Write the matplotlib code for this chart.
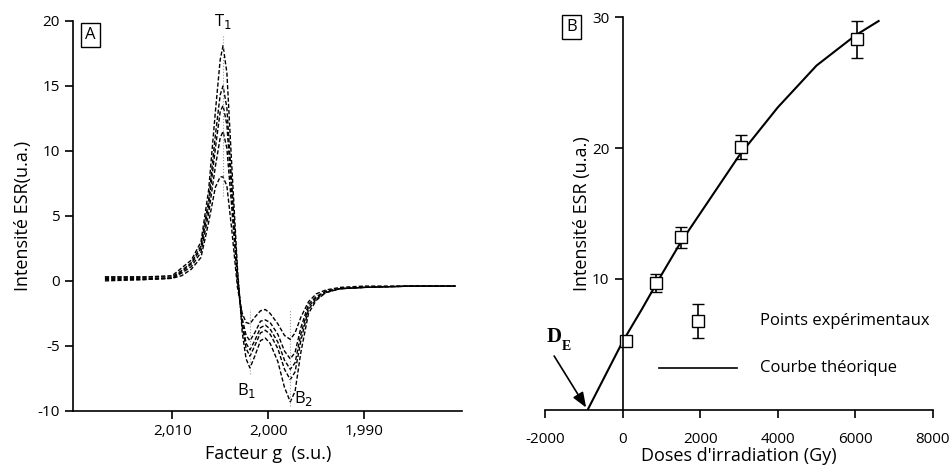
import matplotlib.pyplot as plt

plt.rcParams["font.family"] = ["Open Sans", "DejaVu Sans"]
plt.rcParams["axes.unicode_minus"] = False

# panel A: ESR spectra (g factor vs intensity), five doses
g = [2.0170, 2.0130, 2.0100, 2.0090, 2.0080, 2.0070, 2.0062, 2.0055, 2.0050, 2.0047, 2.0043,
     2.0038, 2.0032, 2.0027, 2.0023, 2.0019, 2.0014, 2.0008, 2.0003, 1.9998, 1.9990,
     1.9983, 1.9977, 1.9972, 1.9966, 1.9958, 1.9950, 1.9940, 1.9925, 1.9900, 1.9850, 1.9805]
spec1 = [0.3, 0.3, 0.4, 1.0, 1.6, 3.0, 7.0, 13.0, 17.0, 18.1, 16.0,
         9.0, 1.0, -4.0, -6.0, -6.7, -5.8, -4.6, -4.4, -4.8, -6.2,
         -8.2, -9.3, -8.5, -5.5, -2.5, -1.5, -0.9, -0.6, -0.5, -0.4, -0.4]
spec2 = [0.3, 0.3, 0.3, 0.8, 1.4, 2.7, 6.2, 11.2, 14.3, 15.0, 13.3,
         7.6, 0.6, -3.5, -5.2, -5.8, -5.0, -4.0, -3.8, -4.1, -5.2,
         -6.8, -7.6, -7.0, -4.6, -2.2, -1.4, -0.9, -0.6, -0.5, -0.4, -0.4]
spec3 = [0.2, 0.2, 0.2, 0.7, 1.3, 2.5, 5.8, 10.2, 13.0, 13.5, 12.0,
         6.8, 0.3, -3.2, -4.8, -5.3, -4.6, -3.6, -3.4, -3.7, -4.7,
         -6.1, -6.8, -6.3, -4.1, -2.0, -1.3, -0.8, -0.6, -0.5, -0.4, -0.4]
spec4 = [0.1, 0.1, 0.2, 0.6, 1.1, 2.2, 5.2, 8.8, 11.0, 11.5, 10.2,
         5.7, 0.0, -2.9, -4.2, -4.6, -4.0, -3.1, -3.0, -3.2, -4.1,
         -5.4, -6.0, -5.5, -3.6, -1.8, -1.2, -0.8, -0.6, -0.5, -0.4, -0.4]
spec5 = [0.0, 0.1, 0.2, 0.4, 0.9, 1.8, 4.5, 7.2, 8.0, 8.0, 7.3,
         4.0, -0.5, -2.5, -3.2, -3.3, -2.8, -2.3, -2.2, -2.5, -3.3,
         -4.2, -4.5, -4.0, -2.8, -1.6, -1.0, -0.7, -0.5, -0.4, -0.4, -0.4]
spectra = [spec1, spec2, spec3, spec4, spec5]
g_t1, g_b1, g_b2 = 2.0047, 2.0019, 1.9977

# panel B: dose response
dose = [80, 850, 1500, 3050, 6050]
intensity = [5.3, 9.7, 13.2, 20.1, 28.3]
err = [0.3, 0.7, 0.8, 0.9, 1.4]
fit_dose = [-900, 0, 500, 1000, 1500, 2000, 3000, 4000, 5000, 6000, 6600]
fit_int = [0.0, 5.2, 7.7, 10.3, 12.8, 15.0, 19.4, 23.1, 26.3, 28.6, 29.7]

fig = plt.figure(figsize=(9.51, 4.75), dpi=100)
axA = fig.add_axes([0.077, 0.135, 0.409, 0.821])
axB = fig.add_axes([0.573, 0.137, 0.408, 0.827])

for s in spectra:
    axA.plot(g, s, color="black", linestyle=(0, (3, 1.5)), linewidth=1.0)
axA.vlines([g_t1], 6.5, 19.0, color="#999999", linestyle=":", linewidth=0.8)
axA.vlines([g_b1, g_b2], [-7.2, -9.6], -2.2, color="#999999", linestyle=":", linewidth=0.8)
axA.text(g_t1, 19.2, "T$_1$", ha="center", va="bottom", fontsize=12)
axA.text(g_b1 + 0.0003, -7.7, "B$_1$", ha="center", va="top", fontsize=12)
axA.text(g_b2 - 0.0004, -8.3, "B$_2$", ha="left", va="top", fontsize=12)
axA.set_xlim(2.0203, 1.9798)
axA.set_ylim(-10, 20)
axA.set_xticks([2.010, 2.000, 1.990])
axA.set_xticklabels(["2,010", "2,000", "1,990"])
axA.set_yticks([-10, -5, 0, 5, 10, 15, 20])
axA.spines["top"].set_visible(False)
axA.spines["right"].set_visible(False)
axA.tick_params(labelsize=11, length=6, width=1.2)
axA.set_xlabel("Facteur g  (s.u.)", fontsize=13)
axA.set_ylabel("Intensité ESR(u.a.)", fontsize=13)
axA.text(0.03, 0.985, "A", transform=axA.transAxes, fontsize=12, va="top",
         bbox=dict(boxstyle="square,pad=0.25", fc="white", ec="black", lw=1))

axB.plot(fit_dose, fit_int, color="black", linewidth=1.5)
axB.errorbar(dose, intensity, yerr=err, fmt="s", mfc="white", mec="black", ms=8,
             ecolor="black", elinewidth=1.2, capsize=4, color="black")
axB.errorbar([1950], [6.8], yerr=[1.3], fmt="s", mfc="white", mec="black", ms=8,
             ecolor="black", elinewidth=1.2, capsize=4)
axB.plot([950, 2950], [3.2, 3.2], color="black", linewidth=1.2)
axB.text(3550, 6.8, "Points expérimentaux", va="center", fontsize=12)
axB.text(3550, 3.2, "Courbe théorique", va="center", fontsize=12)
axB.annotate("", xy=(-900, 0), xytext=(-1800, 4.3),
             arrowprops=dict(arrowstyle="-|>,head_width=0.35,head_length=0.9",
                             color="black", lw=1.2))
axB.text(-1950, 5.2, "D", fontsize=15, fontweight="bold", family="Liberation Serif")
axB.text(-1560, 4.6, "E", fontsize=10, fontweight="bold", family="Liberation Serif")
axB.set_xlim(-2000, 8000)
axB.set_ylim(0, 30)
axB.spines["left"].set_position(("data", 0))
axB.spines["top"].set_visible(False)
axB.spines["right"].set_visible(False)
axB.set_xticks([-2000, 0, 2000, 4000, 6000, 8000])
axB.set_yticks([10, 20, 30])
axB.tick_params(labelsize=11, length=6, width=1.2)
axB.tick_params(axis="x", pad=10)
axB.set_xlabel("Doses d'irradiation (Gy)", fontsize=13, labelpad=0)
axB.set_ylabel("Intensité ESR (u.a.)", fontsize=13)
axB.yaxis.set_label_coords(0.12, 0.5)
axB.text(0.055, 0.995, "B", transform=axB.transAxes, fontsize=12, va="top",
         bbox=dict(boxstyle="square,pad=0.25", fc="white", ec="black", lw=1))

for ax in (axA, axB):
    for sp in ax.spines.values():
        sp.set_linewidth(1.2)

fig.savefig("out.png", dpi=100)
